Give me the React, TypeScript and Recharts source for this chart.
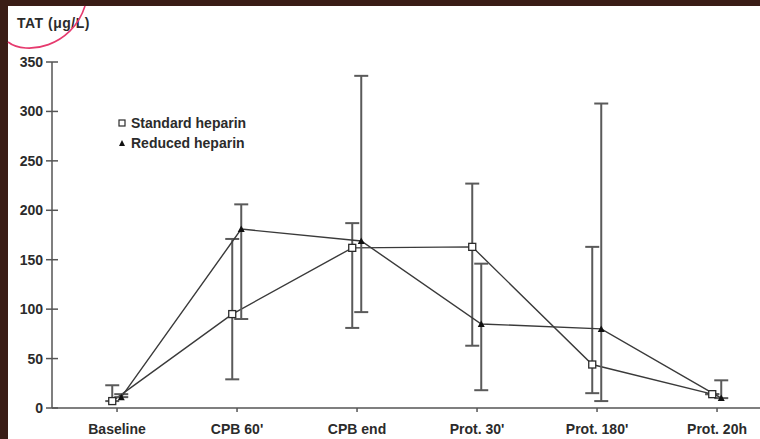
import { LineChart, Line, XAxis, YAxis, ErrorBar } from 'recharts';

const categories = ['Baseline', "CPB 60'", 'CPB end', "Prot. 30'", "Prot. 180'", 'Prot. 20h'];
const yTicks = [0, 50, 100, 150, 200, 250, 300, 350];

// Standard heparin (open squares)
const standardMean = [7, 95, 162, 163, 44, 14];
const standardLow = [7, 29, 81, 63, 15, 14];
const standardHigh = [23, 171, 187, 227, 163, 14];

// Reduced heparin (filled triangles)
const reducedMean = [11, 181, 169, 85, 80, 10];
const reducedLow = [11, 90, 97, 18, 7, 10];
const reducedHigh = [14, 206, 336, 146, 308, 28];

const INK = '#2b2b2b';
const FONT = '"Liberation Sans", Arial, sans-serif';

const standardData = categories.map((name, i) => ({
  name,
  x: i - 0.04,
  y: standardMean[i],
  err: [standardMean[i] - standardLow[i], standardHigh[i] - standardMean[i]],
}));

const reducedData = categories.map((name, i) => ({
  name,
  x: i + 0.035,
  y: reducedMean[i],
  err: [reducedMean[i] - reducedLow[i], reducedHigh[i] - reducedMean[i]],
}));

const SquareDot = (props: any) => {
  const { cx, cy } = props;
  if (cx == null || cy == null) return null;
  return <rect x={cx - 3.5} y={cy - 3.5} width={7} height={7} fill="#fff" stroke={INK} strokeWidth={1.3} />;
};

const TriangleDot = (props: any) => {
  const { cx, cy } = props;
  if (cx == null || cy == null) return null;
  return <path d={`M${cx},${cy - 3.5} L${cx + 3.5},${cy + 3} L${cx - 3.5},${cy + 3} Z`} fill="#111" />;
};

const YTick = (props: any) => {
  const { x, y, payload } = props;
  return (
    <g>
      <line x1={x + 3} x2={x + 15} y1={y} y2={y} stroke="#555" strokeWidth={1.5} />
      <text x={x} y={y} dy="0.36em" textAnchor="end" fill={INK} fontSize={14} fontWeight="bold" fontFamily={FONT}>
        {payload.value}
      </text>
    </g>
  );
};

const LegendBox = () => (
  <div
    style={{
      position: 'absolute',
      left: 117,
      top: 113,
      fontFamily: FONT,
      fontSize: 14,
      fontWeight: 'bold',
      color: INK,
      lineHeight: '20px',
      whiteSpace: 'nowrap',
    }}
  >
    <div style={{ display: 'flex', alignItems: 'center' }}>
      <svg width={10} height={10} style={{ marginRight: 4 }}>
        <rect x={2} y={2} width={6} height={6} fill="#fff" stroke={INK} strokeWidth={1.2} />
      </svg>
      Standard heparin
    </div>
    <div style={{ display: 'flex', alignItems: 'center' }}>
      <svg width={10} height={10} style={{ marginRight: 4 }}>
        <path d="M5,2 L8,8 L2,8 Z" fill="#111" />
      </svg>
      Reduced heparin
    </div>
  </div>
);

export default function App() {
  return (
    <div style={{ position: 'fixed', left: 0, top: 0, width: 820, height: 480, background: '#fff', overflow: 'hidden' }}>
      <div style={{ position: 'absolute', left: 0, top: 0 }}>
        <LineChart width={760} height={439} margin={{ top: 62, right: 0, bottom: 1, left: 0 }}>
          <XAxis
            type="number"
            dataKey="x"
            domain={[-0.542, 5.358]}
            allowDataOverflow
            ticks={[0, 1, 2, 3, 4, 5]}
            tickFormatter={(v: number) => categories[v] ?? ''}
            height={30}
            tickSize={4}
            tickMargin={12}
            stroke="#555"
            strokeWidth={1.5}
            tick={{ fill: INK, fontSize: 14, fontWeight: 'bold', fontFamily: FONT }}
          />
          <YAxis
            type="number"
            domain={[0, 350]}
            ticks={yTicks}
            width={52}
            tickSize={7}
            tickMargin={2}
            tickLine={false}
            stroke="#555"
            strokeWidth={1.5}
            tick={<YTick />}
          />
          <Line
            data={standardData}
            dataKey="y"
            name="Standard heparin"
            stroke="#3a3a3a"
            strokeWidth={1.4}
            dot={<SquareDot />}
            activeDot={false}
            isAnimationActive={false}
          >
            <ErrorBar dataKey="err" direction="y" width={7} stroke="#5a5a5a" strokeWidth={2} />
          </Line>
          <Line
            data={reducedData}
            dataKey="y"
            name="Reduced heparin"
            stroke="#3a3a3a"
            strokeWidth={1.4}
            dot={<TriangleDot />}
            activeDot={false}
            isAnimationActive={false}
          >
            <ErrorBar dataKey="err" direction="y" width={7} stroke="#5a5a5a" strokeWidth={2} />
          </Line>
        </LineChart>
      </div>
      <LegendBox />
      <div style={{ position: 'absolute', left: 0, top: 0, width: 820, height: 6, background: '#3a1d16' }} />
      <div style={{ position: 'absolute', left: 0, top: 0, width: 8, height: 480, background: '#3a1d16' }} />
      <div
        style={{
          position: 'absolute',
          left: 17,
          top: 15,
          fontFamily: FONT,
          fontSize: 14,
          fontWeight: 'bold',
          letterSpacing: 0.5,
          color: INK,
          whiteSpace: 'nowrap',
        }}
      >
        TAT (μg/L)
      </div>
      <svg width={120} height={60} style={{ position: 'absolute', left: 0, top: 0 }}>
        <path d="M8,42 C26,56 72,47 85,6" fill="none" stroke="#e63a6e" strokeWidth={1.6} />
      </svg>
    </div>
  );
}
